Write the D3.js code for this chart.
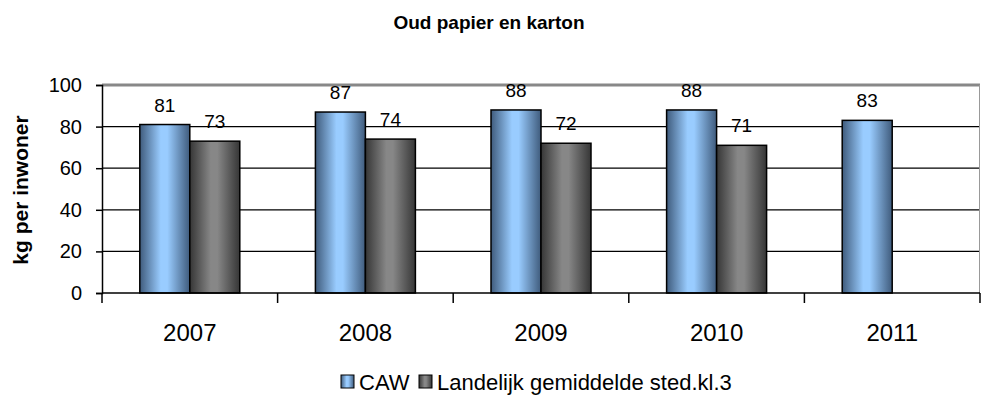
<!DOCTYPE html>
<html>
<head>
<meta charset="utf-8">
<script src="https://cdn.jsdelivr.net/npm/d3@7"></script>
<style>
  body { margin: 0; background: #fff; }
  text { font-family: "Liberation Sans", Arial, sans-serif; fill: #000; }
</style>
</head>
<body>
<div id="chart"></div>
<script>
// data
var years = ["2007", "2008", "2009", "2010", "2011"];
var seriesNames = ["CAW", "Landelijk gemiddelde sted.kl.3"];
var cawValues = [81, 87, 88, 88, 83];
var landelijkValues = [73, 74, 72, 71, null];
var yTicks = [0, 20, 40, 60, 80, 100];

var svgWidth = 981;
var svgHeight = 405;
var margin = { top: 85, right: 1, bottom: 112, left: 102 };
var width = svgWidth - margin.left - margin.right;
var height = svgHeight - margin.top - margin.bottom;

var svg = d3.select("#chart")
  .append("svg")
  .attr("width", svgWidth)
  .attr("height", svgHeight);

// gradients for the bars (dark edges, light middle)
var defs = svg.append("defs");
function addGradient(id, edge, mid) {
  var g = defs.append("linearGradient")
    .attr("id", id)
    .attr("x1", "0%").attr("x2", "100%")
    .attr("y1", "0%").attr("y2", "0%");
  g.append("stop").attr("offset", "0%").attr("stop-color", edge);
  g.append("stop").attr("offset", "42%").attr("stop-color", mid);
  g.append("stop").attr("offset", "55%").attr("stop-color", mid);
  g.append("stop").attr("offset", "100%").attr("stop-color", edge);
}
addGradient("gradCaw", "#3f5b7c", "#99ccff");
addGradient("gradLand", "#363636", "#878787");
var fills = ["url(#gradCaw)", "url(#gradLand)"];

var chartGroup = svg.append("g")
  .attr("transform", `translate(${margin.left}, ${margin.top})`);

var x0 = d3.scaleBand()
  .domain(years)
  .range([0, width])
  .paddingInner(0)
  .paddingOuter(0);

var x1 = d3.scaleBand()
  .domain(seriesNames)
  .range([0, x0.bandwidth()])
  .paddingInner(0)
  .paddingOuter(0.756);

var y = d3.scaleLinear()
  .domain([0, 100])
  .range([height, 0]);

// gridlines
chartGroup.append("g")
  .selectAll("line")
  .data(yTicks.filter(d => d > 0 && d < 100))
  .enter()
  .append("line")
  .attr("x1", 0)
  .attr("x2", width)
  .attr("y1", d => y(d))
  .attr("y2", d => y(d))
  .attr("stroke", "#000")
  .attr("stroke-width", 1.3);

// plot area border (top and right, grey)
chartGroup.append("line")
  .attr("x1", 0).attr("x2", width)
  .attr("y1", y(100)).attr("y2", y(100))
  .attr("stroke", "#888").attr("stroke-width", 3);
chartGroup.append("line")
  .attr("x1", width - 0.5).attr("x2", width - 0.5)
  .attr("y1", y(100)).attr("y2", height)
  .attr("stroke", "#999").attr("stroke-width", 1);

// bars
var rows = years.map((yr, i) => ({ year: yr, values: [cawValues[i], landelijkValues[i]] }));

var groups = chartGroup.selectAll(".year")
  .data(rows)
  .enter()
  .append("g")
  .attr("transform", d => `translate(${x0(d.year)}, 0)`);

var bars = groups.selectAll("g.bar")
  .data(d => d.values.map((v, j) => ({ name: seriesNames[j], value: v, idx: j })).filter(d => d.value != null))
  .enter()
  .append("g")
  .attr("class", "bar");

bars.append("rect")
  .attr("x", d => x1(d.name))
  .attr("y", d => y(d.value))
  .attr("width", x1.bandwidth())
  .attr("height", d => height - y(d.value))
  .attr("fill", d => fills[d.idx])
  .attr("stroke", "#000")
  .attr("stroke-width", 1.5);

bars.append("text")
  .attr("x", d => x1(d.name) + x1.bandwidth() / 2)
  .attr("y", d => y(d.value) - 13)
  .attr("text-anchor", "middle")
  .attr("font-size", 19)
  .text(d => d.value);

// y axis
var leftAxis = d3.axisLeft(y).tickValues(yTicks).tickSize(6).tickPadding(14);
var yAxis = chartGroup.append("g").call(leftAxis);
yAxis.select(".domain").attr("stroke", "#000").attr("stroke-width", 1.5);
yAxis.selectAll(".tick line").attr("stroke", "#000").attr("stroke-width", 1.5);
yAxis.selectAll(".tick text").attr("font-size", 20).attr("font-family", "Liberation Sans, Arial, sans-serif").attr("fill", "#000");

// x axis: ticks at category boundaries
chartGroup.append("line")
  .attr("x1", 0).attr("x2", width)
  .attr("y1", height).attr("y2", height)
  .attr("stroke", "#000").attr("stroke-width", 1.5);
chartGroup.append("g")
  .selectAll("line")
  .data(years.concat(["end"]))
  .enter()
  .append("line")
  .attr("x1", (d, i) => i * x0.step())
  .attr("x2", (d, i) => i * x0.step())
  .attr("y1", height)
  .attr("y2", height + 10)
  .attr("stroke", "#000")
  .attr("stroke-width", 1.5);

chartGroup.append("g")
  .selectAll("text")
  .data(years)
  .enter()
  .append("text")
  .attr("x", d => x0(d) + x0.bandwidth() / 2)
  .attr("y", height + 48)
  .attr("text-anchor", "middle")
  .attr("font-size", 24)
  .text(d => d);

// y axis title
svg.append("text")
  .attr("transform", "rotate(-90)")
  .attr("x", -190)
  .attr("y", 28)
  .attr("text-anchor", "middle")
  .attr("font-size", 21)
  .attr("font-weight", "bold")
  .text("kg per inwoner");

// title
svg.append("text")
  .attr("x", 489)
  .attr("y", 29)
  .attr("text-anchor", "middle")
  .attr("font-size", 19)
  .attr("font-weight", "bold")
  .text("Oud papier en karton");

// legend
var legendItems = [
  { name: seriesNames[0], fill: fills[0], x: 341 },
  { name: seriesNames[1], fill: fills[1], x: 419 }
];
var legend = svg.append("g");
var li = legend.selectAll("g")
  .data(legendItems)
  .enter()
  .append("g")
  .attr("transform", d => `translate(${d.x}, 375)`);
li.append("rect")
  .attr("width", 13)
  .attr("height", 13)
  .attr("fill", d => d.fill)
  .attr("stroke", "#000")
  .attr("stroke-width", 1);
li.append("text")
  .attr("x", 18)
  .attr("y", 15)
  .attr("font-size", 22)
  .text(d => d.name);
</script>
</body>
</html>
